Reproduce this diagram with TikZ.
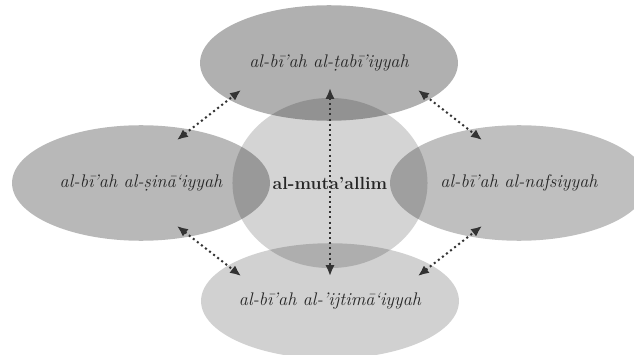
\documentclass[tikz,border=0pt]{standalone}
\usepackage{fontspec}
\usetikzlibrary{shapes.geometric,arrows.meta}
\begin{document}
\begin{tikzpicture}[x=0.0225cm,y=-0.0225cm,
  blob/.style={ellipse,inner sep=0pt,draw=none,fill=black,minimum width=5.805cm,minimum height=2.6cm},
  lbl/.style={font=\itshape\fontsize{11.7}{14}\selectfont,text=black!85},
  link/.style={{Latex[length=7pt,width=6pt]}-{Latex[length=7pt,width=6pt]},dotted,line width=1.3pt,draw=black!80}]
\useasboundingbox (0,0) rectangle (634,355);
\clip (0,0) rectangle (634,355);
\node[blob,fill opacity=0.31] (top) at (329,63) {};
\node[blob,fill opacity=0.28] (left) at (141,183) {};
\node[blob,fill opacity=0.25] (right) at (519,183) {};
\node[blob,fill opacity=0.18] (bottom) at (330,301) {};
\node[ellipse,inner sep=0pt,fill=black,fill opacity=0.17,minimum width=4.39cm,minimum height=3.83cm] (center) at (330,183) {};
\node[lbl] (ttop) at (top) {al-b\={\i}’ah al-\d{t}ab\={\i}’iyyah};
\node[lbl] (tleft) at (left) {al-b\={\i}’ah al-\d{s}in\=a‘iyyah};
\node[lbl] (tright) at (519,183) {al-b\={\i}’ah al-nafsiyyah};
\node[lbl] (tbottom) at (bottom) {al-b\={\i}’ah al-’ijtim\=a‘iyyah};
\node[font=\bfseries\fontsize{11.3}{13}\selectfont,text=black!85] (tcenter) at (center) {al-muta’allim};
\coordinate (a1) at (177,140); \coordinate (a2) at (241,90);
\coordinate (b1) at (418,90); \coordinate (b2) at (482,140);
\coordinate (c1) at (177,226); \coordinate (c2) at (241,276);
\coordinate (d1) at (418,276); \coordinate (d2) at (482,226);
\coordinate (e1) at (330,88); \coordinate (e2) at (330,276);
\draw[link] (a1) -- (a2);
\draw[link] (b1) -- (b2);
\draw[link] (c1) -- (c2);
\draw[link] (d1) -- (d2);
\draw[link] (e1) -- (e2);
\end{tikzpicture}
\end{document}
